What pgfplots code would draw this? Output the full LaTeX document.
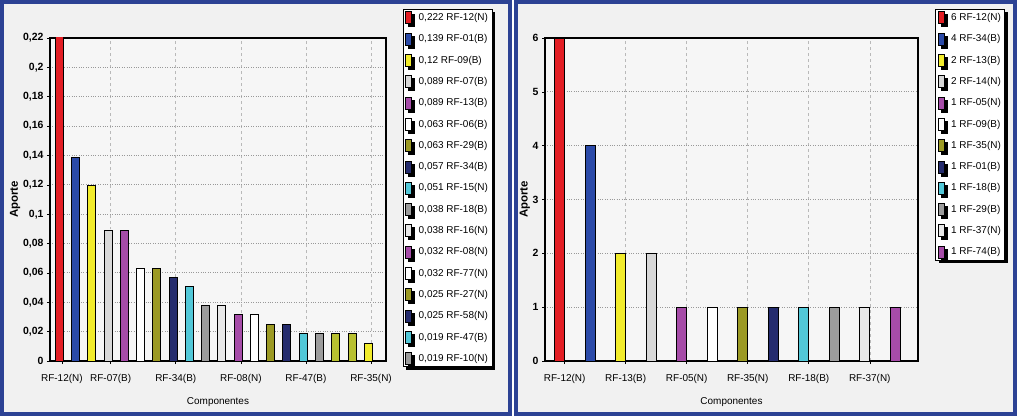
\documentclass[border=0pt]{standalone}
\usepackage{fontspec}
\setmainfont{Liberation Sans}
\usepackage{pgfplots}
\pgfplotsset{compat=1.18}
\usetikzlibrary{shadows}

\definecolor{cRed}{HTML}{E31E24}
\definecolor{cBlue}{HTML}{2B4AA8}
\definecolor{cYel}{HTML}{F2EC2C}
\definecolor{cLGray}{HTML}{D8D8D8}
\definecolor{cPurp}{HTML}{A64CA8}
\definecolor{cOlive}{HTML}{9C9A24}
\definecolor{cNavy}{HTML}{252C6E}
\definecolor{cCyan}{HTML}{52C8D8}
\definecolor{cGray}{HTML}{9C9C9C}
\definecolor{cVLGray}{HTML}{E8E8E8}
\definecolor{cYG}{HTML}{B8C030}
\definecolor{panelbg}{HTML}{F1F1F1}
\definecolor{plotbg}{HTML}{F6F6F6}
\definecolor{frameblue}{HTML}{2C4294}

\pgfplotsset{
  mybar/.style={ybar, bar shift=0pt, draw=black, line width=0.5bp,
    legend image code/.code={\draw[##1, draw=black, line width=0.5bp] (0bp,-6bp) rectangle (6bp,6bp);}},
  commonax/.style={
    scale only axis, height=323bp, ymin=0,
    axis background/.style={fill=plotbg},
    tick align=outside, major tick length=3bp,
    tick style={black, line width=0.6bp},
    xtick pos=bottom, ytick pos=left,
    grid=major,
    x grid style={dashed, gray!55, line width=0.6bp},
    y grid style={dotted, gray!80, line width=1bp},
    axis line style={black, line width=1.2bp},
    xticklabel style={font=\fontsize{10}{12}\selectfont, yshift=-7bp},
    yticklabel style={font=\bfseries\fontsize{10.5}{12}\selectfont},
    /pgf/number format/.cd, use comma, fixed, precision=2, assume math mode=true, /pgfplots/.cd,
    ylabel=Aporte,
    ylabel style={font=\bfseries\fontsize{11.5}{13}\selectfont, anchor=center},
    xlabel=Componentes,
    xlabel style={font=\fontsize{10}{12}\selectfont, at={(axis description cs:0.5,-0.127)}, anchor=center},
    legend cell align=left,
    legend style={anchor=north west, draw=black, line width=0.8bp, fill=white,
      font=\fontsize{10}{12}\selectfont, row sep=8.6bp, column sep=5bp, inner xsep=2bp,
      drop shadow={fill=black, shadow xshift=3bp, shadow yshift=-3bp, opacity=1}},
  }
}

\begin{document}
\begin{tikzpicture}
\useasboundingbox (0,0) rectangle (1019bp,418bp);
\fill[white] (0,0) rectangle (1019bp,418bp);
\fill[panelbg] (2bp,4bp) rectangle (510bp,416bp);
\fill[panelbg] (516bp,4bp) rectangle (1015bp,416bp);

\begin{axis}[commonax,
  at={(50bp,57bp)}, anchor=south west,
  width=336bp,
  xmin=0.45, xmax=21.1, ymax=0.22,
  bar width=8bp,
  ytick={0,0.02,0.04,0.06,0.08,0.1,0.12,0.14,0.16,0.18,0.2,0.22},
  xtick={1.18,4.18,8.18,12.18,16.18,20.18},
  xticklabels={RF-12(N),RF-07(B),RF-34(B),RF-08(N),RF-47(B),RF-35(N)},
  ylabel style={at={(axis description cs:-0.104,0.5)}},
  legend style={at={(axis description cs:1.05,1.09)}},
]
\addplot[mybar, fill=cRed] coordinates {(1,0.222)}; \addlegendentry{0,222 RF-12(N)}
\addplot[mybar, fill=cBlue] coordinates {(2,0.139)}; \addlegendentry{0,139 RF-01(B)}
\addplot[mybar, fill=cYel] coordinates {(3,0.12)}; \addlegendentry{0,12 RF-09(B)}
\addplot[mybar, fill=cLGray] coordinates {(4,0.089)}; \addlegendentry{0,089 RF-07(B)}
\addplot[mybar, fill=cPurp] coordinates {(5,0.089)}; \addlegendentry{0,089 RF-13(B)}
\addplot[mybar, fill=white] coordinates {(6,0.063)}; \addlegendentry{0,063 RF-06(B)}
\addplot[mybar, fill=cOlive] coordinates {(7,0.063)}; \addlegendentry{0,063 RF-29(B)}
\addplot[mybar, fill=cNavy] coordinates {(8,0.057)}; \addlegendentry{0,057 RF-34(B)}
\addplot[mybar, fill=cCyan] coordinates {(9,0.051)}; \addlegendentry{0,051 RF-15(N)}
\addplot[mybar, fill=cGray] coordinates {(10,0.038)}; \addlegendentry{0,038 RF-18(B)}
\addplot[mybar, fill=cVLGray] coordinates {(11,0.038)}; \addlegendentry{0,038 RF-16(N)}
\addplot[mybar, fill=cPurp] coordinates {(12,0.032)}; \addlegendentry{0,032 RF-08(N)}
\addplot[mybar, fill=white] coordinates {(13,0.032)}; \addlegendentry{0,032 RF-77(N)}
\addplot[mybar, fill=cOlive] coordinates {(14,0.025)}; \addlegendentry{0,025 RF-27(N)}
\addplot[mybar, fill=cNavy] coordinates {(15,0.025)}; \addlegendentry{0,025 RF-58(N)}
\addplot[mybar, fill=cCyan] coordinates {(16,0.019)}; \addlegendentry{0,019 RF-47(B)}
\addplot[mybar, fill=cGray] coordinates {(17,0.019)}; \addlegendentry{0,019 RF-10(N)}
\addplot[mybar, fill=cYG, forget plot] coordinates {(18,0.019)};
\addplot[mybar, fill=cYG, forget plot] coordinates {(19,0.019)};
\addplot[mybar, fill=cYel, forget plot] coordinates {(20,0.012)};
\end{axis}

\begin{axis}[commonax,
  at={(545bp,57bp)}, anchor=south west,
  width=373bp,
  xmin=0.525, xmax=12.75, ymax=6,
  bar width=10bp,
  ytick={0,1,2,3,4,5,6},
  xtick={1.17,3.17,5.17,7.17,9.17,11.17},
  xticklabels={RF-12(N),RF-13(B),RF-05(N),RF-35(N),RF-18(B),RF-37(N)},
  ylabel style={at={(axis description cs:-0.054,0.5)}},
  legend style={at={(axis description cs:1.046,1.09)}},
]
\addplot[mybar, fill=cRed] coordinates {(1,6)}; \addlegendentry{6 RF-12(N)}
\addplot[mybar, fill=cBlue] coordinates {(2,4)}; \addlegendentry{4 RF-34(B)}
\addplot[mybar, fill=cYel] coordinates {(3,2)}; \addlegendentry{2 RF-13(B)}
\addplot[mybar, fill=cLGray] coordinates {(4,2)}; \addlegendentry{2 RF-14(N)}
\addplot[mybar, fill=cPurp] coordinates {(5,1)}; \addlegendentry{1 RF-05(N)}
\addplot[mybar, fill=white] coordinates {(6,1)}; \addlegendentry{1 RF-09(B)}
\addplot[mybar, fill=cOlive] coordinates {(7,1)}; \addlegendentry{1 RF-35(N)}
\addplot[mybar, fill=cNavy] coordinates {(8,1)}; \addlegendentry{1 RF-01(B)}
\addplot[mybar, fill=cCyan] coordinates {(9,1)}; \addlegendentry{1 RF-18(B)}
\addplot[mybar, fill=cGray] coordinates {(10,1)}; \addlegendentry{1 RF-29(B)}
\addplot[mybar, fill=cVLGray] coordinates {(11,1)}; \addlegendentry{1 RF-37(N)}
\addplot[mybar, fill=cPurp] coordinates {(12,1)}; \addlegendentry{1 RF-74(B)}
\end{axis}

\draw[frameblue, line width=4bp] (2bp,4bp) rectangle (510bp,416bp);
\draw[frameblue, line width=4bp] (516bp,4bp) rectangle (1015bp,416bp);
\end{tikzpicture}
\end{document}
